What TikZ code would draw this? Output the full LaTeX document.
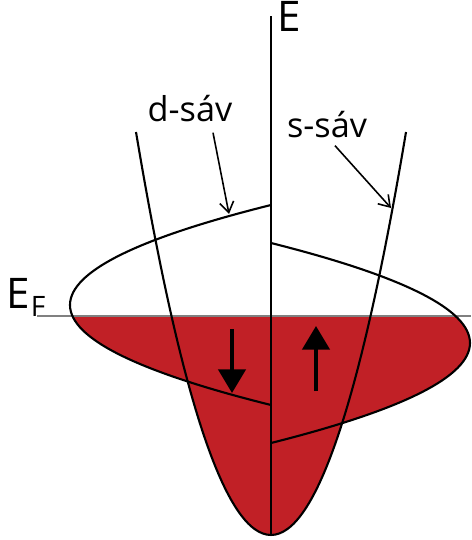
\documentclass[tikz,border=0pt]{standalone}
\usepackage{fontspec}
\setmainfont{Open Sans}
\usetikzlibrary{arrows.meta}
\definecolor{bandred}{RGB}{193,32,38}

\begin{document}
\begin{tikzpicture}[
    x=0.02cm, y=-0.02cm,
    curve/.style={line width=1.2pt, black},
    fermi/.style={line width=1.2pt, gray},
    pointer/.style={-{Straight Barb[length=6pt, width=8pt]}, line width=0.9pt},
    spin/.style={-{Triangle[length=13.5pt, width=15.5pt]}, line width=2.3pt},
    biglabel/.style={font=\fontsize{24}{28}\selectfont, inner sep=0pt, anchor=base west},
    bandlabel/.style={font=\fontsize{19.5}{23}\selectfont, inner sep=0pt, anchor=base}
  ]
  \useasboundingbox (0,0) rectangle (471,540);

  % Occupied states below the Fermi level
  \begin{scope}
    \clip (0,316) rectangle (471,540);
    \fill[bandred] (271,205) .. controls (3,271.7) and (3,338.3) .. (271,405) -- cycle;
    \fill[bandred] (271,243) .. controls (536.3,309.7) and (536.3,376.3) .. (271,443) -- cycle;
    \fill[bandred] (136,132) .. controls (226,669.3) and (316,669.3) .. (406,132) -- cycle;
  \end{scope}

  % Fermi level
  \coordinate (fstart) at (37,316);
  \coordinate (fend) at (471,316);
  \draw[fermi] (fstart) -- (fend);

  % d band: spin down (left), spin up (right)
  \draw[curve] (271,205) .. controls (3,271.7) and (3,338.3) .. (271,405);
  \draw[curve] (271,243) .. controls (536.3,309.7) and (536.3,376.3) .. (271,443);

  % s band
  \draw[curve] (136,132) .. controls (226,669.3) and (316,669.3) .. (406,132);

  % Energy axis
  \coordinate (axisbot) at (271,535);
  \coordinate (axistop) at (271,16);
  \draw[curve] (axisbot) -- (axistop);

  % Labels
  \node[biglabel] (elabel) at (277,32) {E};
  \node[biglabel] (eflabel) at (6,308) {E\kern0.02cm\raisebox{-0.18cm}{\fontsize{16}{18}\selectfont F}};
  \node[bandlabel] (dlabel) at (190,122) {d-sáv};
  \node[bandlabel] (slabel) at (327,138) {s-sáv};

  % Pointers to the bands
  \coordinate (dband) at (229,214);
  \coordinate (sband) at (391,208);
  \draw[pointer] ([xshift=0.46cm, yshift=-0.2cm]dlabel.south) -- (dband);
  \draw[pointer] ([xshift=0.16cm, yshift=-0.14cm]slabel.south) -- (sband);

  % Spin directions
  \coordinate (dntop) at (232,329);
  \coordinate (dnbot) at (232,393);
  \coordinate (upbot) at (316,391);
  \coordinate (uptop) at (316,326);
  \draw[spin] (dntop) -- (dnbot);
  \draw[spin] (upbot) -- (uptop);
\end{tikzpicture}
\end{document}
